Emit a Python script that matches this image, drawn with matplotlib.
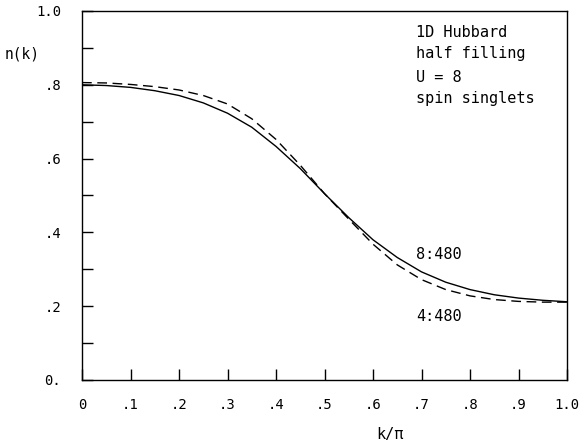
import numpy as np
import matplotlib.pyplot as plt
from matplotlib.ticker import FixedLocator

# momentum k/pi and n(k)
k = [0, .05, .1, .15, .2, .25, .3, .35, .4, .45, .5,
     .55, .6, .65, .7, .75, .8, .85, .9, .95, 1.0]
n_8_480 = [0.800, 0.798, 0.793, 0.784, 0.771, 0.751, 0.723, 0.685, 0.633, 0.573, 0.505,
           0.440, 0.380, 0.332, 0.293, 0.265, 0.245, 0.231, 0.222, 0.216, 0.212]
n_4_480 = [0.806, 0.805, 0.801, 0.795, 0.786, 0.771, 0.748, 0.708, 0.652, 0.582, 0.505,
           0.436, 0.368, 0.312, 0.272, 0.245, 0.228, 0.218, 0.213, 0.211, 0.211]

xticks = [0, .1, .2, .3, .4, .5, .6, .7, .8, .9, 1.0]
xlabels = ['0', '.1', '.2', '.3', '.4', '.5', '.6', '.7', '.8', '.9', '1.0']
yticks = [0, .2, .4, .6, .8, 1.0]
ylabels = ['0.', '.2', '.4', '.6', '.8', '1.0']
notes = ['1D Hubbard', 'half filling', 'U = 8', 'spin singlets']
note_y = [0.943, 0.886, 0.821, 0.764]

plt.rcParams['font.family'] = ['DejaVu Sans Mono']
fig = plt.figure(figsize=(5.8, 4.47), dpi=100)
ax = fig.add_axes([0.1414, 0.1499, 0.8362, 0.8255])

ax.plot(k, n_8_480, color='black', lw=1.0)
ax.plot(k, n_4_480, color='black', lw=1.0, dashes=(7, 4))

ax.set_xlim(0, 1)
ax.set_ylim(0, 1)
ax.set_xticks(xticks)
ax.set_xticklabels(xlabels)
ax.set_yticks(yticks)
ax.set_yticklabels(ylabels)
ax.yaxis.set_minor_locator(FixedLocator([.1, .3, .5, .7, .9]))
ax.tick_params(axis='both', which='both', direction='in', length=8, width=1,
               labelsize=10, color='black')
ax.tick_params(axis='x', pad=13)
ax.tick_params(axis='y', pad=15)
for s in ax.spines.values():
    s.set_linewidth(1)

fig.text(0.008, 0.88, 'n(k)', fontsize=10.5, va='center')
fig.text(0.648, 0.027, 'k/π', fontsize=11, va='center')

for t, yy in zip(notes, note_y):
    ax.text(0.689, yy, t, fontsize=11, va='center', transform=ax.transAxes)
ax.text(0.689, 0.341, '8:480', fontsize=11, va='center', transform=ax.transAxes)
ax.text(0.689, 0.173, '4:480', fontsize=11, va='center', transform=ax.transAxes)

fig.savefig('out.png', dpi=100)
